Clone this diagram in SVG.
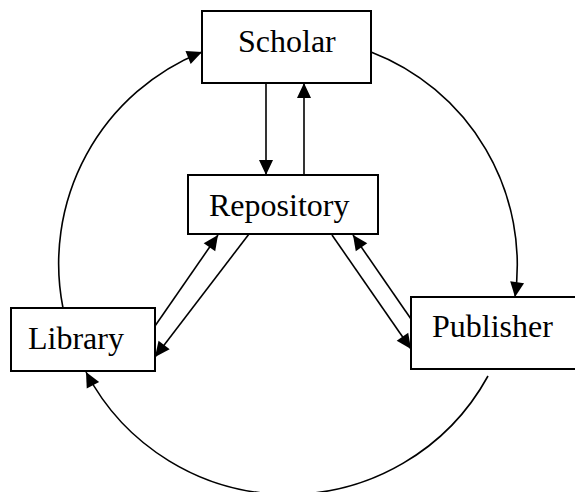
<svg xmlns="http://www.w3.org/2000/svg" width="575" height="492" viewBox="0 0 575 492">
  <style>
    .box { fill: #ffffff; stroke: #000000; stroke-width: 2; }
    .lbl { font-family: "Liberation Serif", "Times New Roman", serif; font-size: 32px; fill: #000000; }
    .edge { fill: none; stroke: #000000; stroke-width: 1.6; marker-end: url(#ah); }
  </style>
  <defs>
    <marker id="ah" markerUnits="userSpaceOnUse" markerWidth="17" markerHeight="15" refX="15" refY="7" orient="auto" overflow="visible">
      <path d="M0,0 L15,7 L0,14 z" fill="#000000"/>
    </marker>
  </defs>
  <rect width="575" height="492" fill="#ffffff"/>
  <g id="connectors">
    <path class="edge" d="M266,83 L266,175"/>
    <path class="edge" d="M304,175 L304,83"/>
    <path class="edge" d="M155,326 L218,235"/>
    <path class="edge" d="M249,234 L155,357"/>
    <path class="edge" d="M332,235 L411,349"/>
    <path class="edge" d="M411,319 L353,235"/>
    <path class="edge" d="M63,308 A228,228 0 0 1 202,52"/>
    <path class="edge" d="M371,52 A228,228 0 0 1 515,297"/>
    <path class="edge" d="M488,376 A228,228 0 0 1 86,372"/>
  </g>
  <g id="scholar">
    <rect class="box" x="202" y="11" width="169" height="72"/>
    <text class="lbl" x="238" y="52">Scholar</text>
  </g>
  <g id="repository">
    <rect class="box" x="188" y="175" width="190" height="59"/>
    <text class="lbl" x="209" y="216">Repository</text>
  </g>
  <g id="library">
    <rect class="box" x="11" y="308" width="144" height="63"/>
    <text class="lbl" x="28" y="349">Library</text>
  </g>
  <g id="publisher">
    <rect class="box" x="411" y="297" width="170" height="72"/>
    <text class="lbl" x="432" y="337">Publisher</text>
  </g>
</svg>
